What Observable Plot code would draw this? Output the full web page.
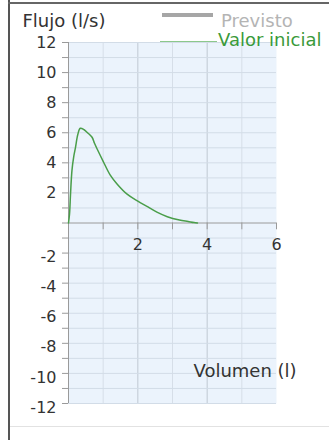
<!DOCTYPE html>
<html>
<head>
<meta charset="utf-8">
<script src="https://cdn.jsdelivr.net/npm/d3@7"></script>
<script src="https://cdn.jsdelivr.net/npm/@observablehq/plot@0.6"></script>
<style>
  html, body { margin: 0; padding: 0; background: #fff; }
  #wrap { position: relative; width: 329px; height: 440px; overflow: hidden; font-family: "DejaVu Sans", sans-serif; }
  #wrap svg { position: absolute; left: 0; top: 0; }
  .bl { position: absolute; left: 8px; top: 0; width: 2px; height: 440px; background: #555; }
  .bt { position: absolute; left: 8px; top: 2px; width: 321px; height: 2px; background: #666; }
  .bb { position: absolute; left: 10px; top: 426px; width: 319px; height: 1px; background: #e2e2e2; }
</style>
</head>
<body>
<div id="wrap"><div class="bl"></div><div class="bt"></div><div class="bb"></div></div>
<script>
// Data
const volumen = [0, 0.03, 0.06, 0.1, 0.15, 0.2, 0.27, 0.34, 0.45, 0.55, 0.68, 0.75, 0.83, 1.0, 1.2, 1.4, 1.7, 2.0, 2.25, 2.55, 2.85, 3.2, 3.45, 3.62, 3.72];
const flujo   = [0, 0.6, 2.0, 3.5, 4.4, 5.0, 5.9, 6.3, 6.2, 6.0, 5.7, 5.3, 4.9, 4.1, 3.2, 2.6, 1.9, 1.45, 1.12, 0.72, 0.42, 0.2, 0.1, 0.03, 0];
const xTickLabels = [2, 4, 6];
const xMinorTicks = [1, 3, 5];
const yTicksPos = [2, 4, 6, 8, 10, 12];
const yTicksNeg = [-2, -4, -6, -8, -10, -12];
const yGrid = [-12,-11,-10,-9,-8,-7,-6,-5,-4,-3,-2,-1,1,2,3,4,5,6,7,8,9,10,11,12];
const seriesNames = ["Previsto", "Valor inicial"];
const yAxisTitle = "Flujo (l/s)";
const xAxisTitle = "Volumen (l)";

const curve = volumen.map((v, i) => ({v, f: flujo[i]}));
const fmt = d => String(d);

const chart = Plot.plot({
  width: 329,
  height: 440,
  marginLeft: 68,
  marginRight: 53,
  marginTop: 42,
  marginBottom: 37,
  style: {fontFamily: "DejaVu Sans, sans-serif", background: "transparent", overflow: "visible"},
  x: {domain: [0, 6], axis: null},
  y: {domain: [-12, 12], axis: null},
  marks: [
    Plot.frame({fill: "#ebf3fc", stroke: null}),
    Plot.gridX(xMinorTicks, {stroke: "#d6dee8", strokeOpacity: 1}),
    Plot.gridX(xTickLabels.filter(d => d < 6), {stroke: "#bfc8d2", strokeOpacity: 1}),
    Plot.gridY(yGrid, {stroke: "#d2dce7", strokeOpacity: 1}),
    Plot.ruleX([0], {stroke: "#9a9a9a"}),
    Plot.ruleY([0], {stroke: "#9a9a9a"}),
    Plot.ruleX(xMinorTicks.concat(xTickLabels), {y1: 0, y2: -0.45, stroke: "#9a9a9a"}),
    Plot.axisY(yGrid.concat([0]), {tickSize: 6, tickFormat: () => "", stroke: "#9a9a9a", label: null}),
    Plot.axisY(yTicksPos, {tickSize: 0, tickPadding: 12, fontSize: 16, fill: "#333", label: null, tickFormat: fmt}),
    Plot.axisY(yTicksNeg, {tickSize: 0, tickPadding: 12, fontSize: 16, fill: "#333", label: null, dy: 4, tickFormat: fmt}),
    Plot.text(xTickLabels, {x: d => d, y: 0, dy: 22, text: fmt, fontSize: 16, fill: "#333"}),
    Plot.line(curve, {x: "v", y: "f", stroke: "#4a9e4a", strokeWidth: 1.5, curve: "catmull-rom"}),
    Plot.text([yAxisTitle], {frameAnchor: "top-left", dx: -46, dy: -21, text: d => d, fontSize: 18, fill: "#333", textAnchor: "start", lineAnchor: "middle"}),
    Plot.text([xAxisTitle], {frameAnchor: "bottom-left", dx: 125, dy: -32, text: d => d, fontSize: 18, fill: "#333", textAnchor: "start", lineAnchor: "middle"})
  ]
});

const svg = d3.select(chart);
// Legend
svg.append("rect").attr("x", 162).attr("y", 13).attr("width", 51).attr("height", 4).attr("fill", "#a6a6a6");
svg.append("text").attr("x", 221).attr("y", 27).attr("font-size", 18).attr("text-anchor", "start").attr("fill", "#b4b4b4").text(seriesNames[0]);
svg.append("line").attr("x1", 160).attr("x2", 217).attr("y1", 41.5).attr("y2", 41.5).attr("stroke", "#8cc88c").attr("stroke-width", 1);
svg.append("text").attr("x", 218).attr("y", 46).attr("font-size", 18).attr("text-anchor", "start").attr("fill", "#3a9a3a").text(seriesNames[1]);

document.getElementById("wrap").appendChild(chart);
</script>
</body>
</html>
